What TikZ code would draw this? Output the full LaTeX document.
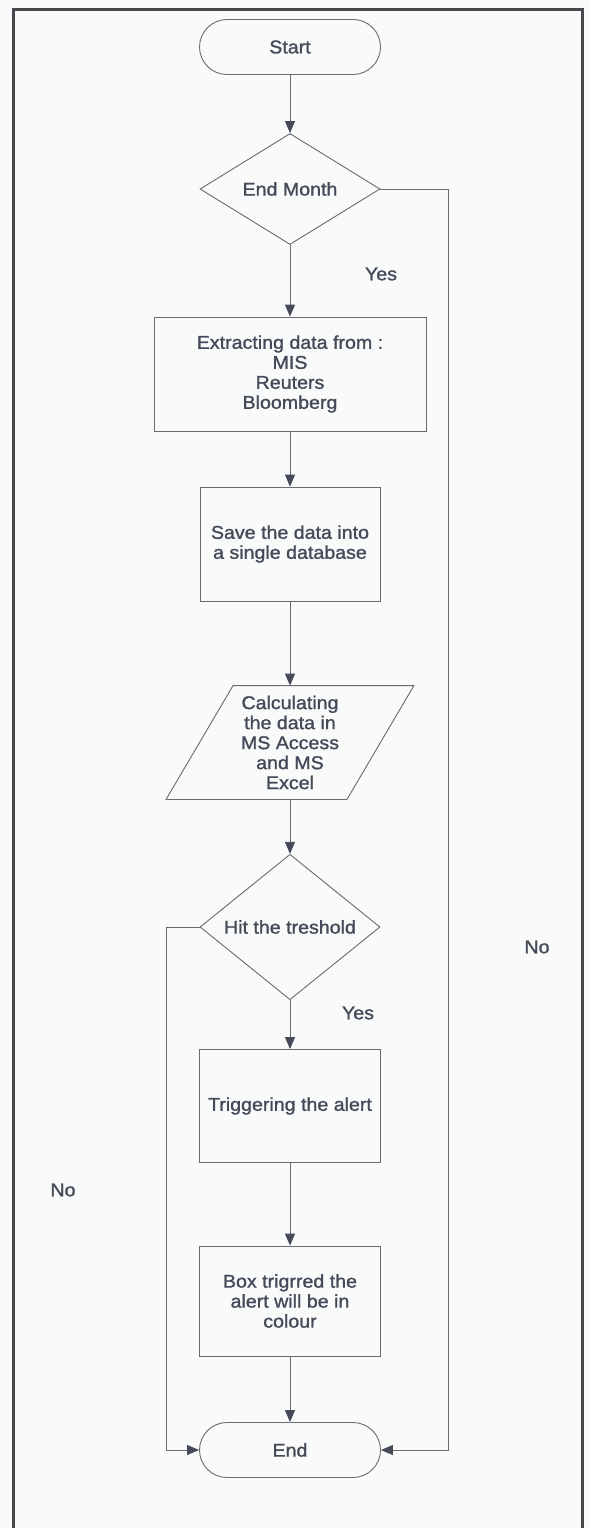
\documentclass[tikz,border=0pt]{standalone}
\usepackage{fontspec}
\setmainfont{Liberation Sans}[FakeStretch=1.06,FakeBold=1.2]
\usetikzlibrary{shapes.geometric,arrows.meta,calc}
\usepackage{xcolor}
\definecolor{ln}{HTML}{6A6A70}
\definecolor{ink}{HTML}{454958}
\definecolor{frm}{HTML}{46484E}
\definecolor{pg}{HTML}{F9FAFA}

\tikzset{
	base/.style={draw=ln, line width=0.9pt, text=ink, align=center, inner sep=0pt,
		font=\fontsize{18.5}{20}\selectfont},
	term/.style={base, rectangle, rounded corners=27.5pt, minimum width=181pt, minimum height=55pt},
	dec/.style={base, diamond, minimum width=180pt, minimum height=111pt},
	proc/.style={base, rectangle},
	flow/.style={draw=ln, line width=0.9pt, -{Triangle[length=12pt,width=10pt,color=ink]}},
	lbl/.style={text=ink, font=\fontsize{18.5}{20}\selectfont}
}

\begin{document}
\begin{tikzpicture}[x=1pt,y=-1pt]
\fill[pg](0,0)rectangle(589,1528);
\useasboundingbox(0,0)rectangle(589,1528);
\draw[frm, line width=3pt](13,1532)|-(582,10)--(582,1532);

\node[term](start) at (290,47){Start};
\node[dec](endm) at (290,189){End Month};
\node[proc, minimum width=272pt, minimum height=114pt](extr) at (290,374){Extracting data from :\\MIS\\Reuters\\Bloomberg};
\node[proc, minimum width=180pt, minimum height=114pt](save) at (290,544){Save the data into\\a single database};
\node[base, draw=none, minimum width=180pt, minimum height=113pt](calc) at (290,742.5){Calculating\\the data in\\MS Access\\and MS\\Excel};
\node[dec](hit) at (290,927){Hit the treshold};
\node[proc, minimum width=181pt, minimum height=113pt](trig) at (290,1106){Triggering the alert};
\node[proc, minimum width=181pt, minimum height=110pt](colr) at (290,1301){Box trigrred the\\alert will be in\\colour};
\node[term](fin) at (290,1450){End};

% parallelogram round the calc node
\draw[draw=ln, line width=0.9pt]($(calc.south west)+(-33.5pt,0)$)--($(calc.south east)+(-33.5pt,0)$)
	--($(calc.north east)+(33.5pt,0)$)--($(calc.north west)+(33.5pt,0)$)--cycle;

\draw[flow](start)--(endm);
\draw[flow](endm)--(extr);
\draw[flow](extr)--(save);
\draw[flow](save)--(calc);
\draw[flow](calc)--(hit);
\draw[flow](hit)--(trig);
\draw[flow](trig)--(colr);
\draw[flow](colr)--(fin);
\draw[flow](endm.east)--++(68pt,0)|-(fin.east);
\draw[flow](hit.west)--++(-33pt,0)|-(fin.west);

\node[lbl](yes1) at (381,274){Yes};
\node[lbl](yes2) at (358,1013){Yes};
\node[lbl](no1) at (537,947){No};
\node[lbl](no2) at (63,1190){No};
\end{tikzpicture}
\end{document}
